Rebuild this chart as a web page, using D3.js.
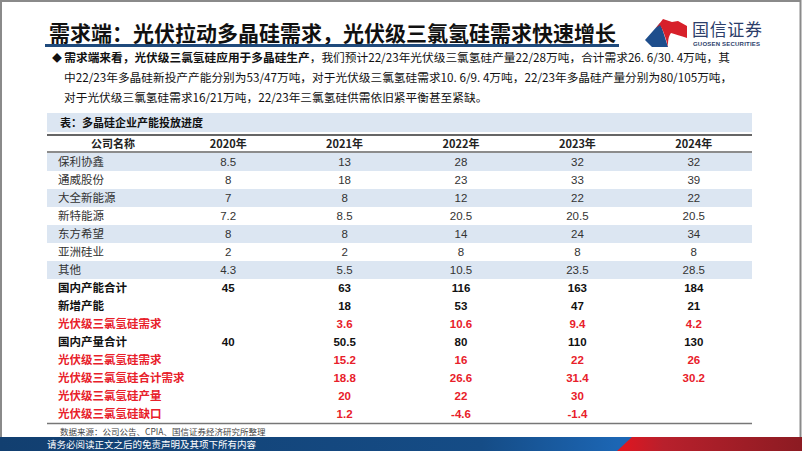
<!DOCTYPE html>
<html><head><meta charset="utf-8">
<script src="https://cdn.jsdelivr.net/npm/d3@7"></script>
<style>
body{margin:0;background:#fff;}
svg{display:block;}
text{font-family:"Liberation Sans","Noto Sans CJK SC",sans-serif;}
.cjk{font-family:"Noto Sans CJK SC","Liberation Sans",sans-serif;}
</style></head>
<body><svg id="c" width="802" height="451"></svg>
<script>
const titleText = "需求端：光伏拉动多晶硅需求，光伏级三氯氢硅需求快速增长";
const bulletBold = "需求端来看，光伏级三氯氢硅应用于多晶硅生产";
const bulletLines = [
  "，我们预计22/23年光伏级三氯氢硅产量22/28万吨，合计需求26. 6/30. 4万吨，其",
  "中22/23年多晶硅新投产产能分别为53/47万吨，对于光伏级三氯氢硅需求10. 6/9. 4万吨，22/23年多晶硅产量分别为80/105万吨，",
  "对于光伏级三氯氢硅需求16/21万吨，22/23年三氯氢硅供需依旧紧平衡甚至紧缺。"
];
const tableTitle = "表：多晶硅企业产能投放进度";
const headerName = "公司名称";
const years = ["2020年","2021年","2022年","2023年","2024年"];
const companies = ["保利协鑫","通威股份","大全新能源","新特能源","东方希望","亚洲硅业","其他"];
const companyCapacity = [
  [8.5,13,28,32,32],
  [8,18,23,33,39],
  [7,8,12,22,22],
  [7.2,8.5,20.5,20.5,20.5],
  [8,8,14,24,34],
  [2,2,8,8,8],
  [4.3,5.5,10.5,23.5,28.5]
];
const summaryLabels = ["国内产能合计","新增产能","光伏级三氯氢硅需求","国内产量合计","光伏级三氯氢硅需求","光伏级三氯氢硅合计需求","光伏级三氯氢硅产量","光伏级三氯氢硅缺口"];
const summaryValues = [
  [45,63,116,163,184],
  [null,18,53,47,21],
  [null,3.6,10.6,9.4,4.2],
  [40,50.5,80,110,130],
  [null,15.2,16,22,26],
  [null,18.8,26.6,31.4,30.2],
  [null,20,22,30,null],
  [null,1.2,-4.6,-1.4,null]
];
const sourceText = "数据来源：公司公告、CPIA、国信证券经济研究所整理";
const footerText = "请务必阅读正文之后的免责声明及其项下所有内容";
const logoCN = "国信证券";
const logoEN = "GUOSEN SECURITIES";

const svg = d3.select("#c");
const defs = svg.append("defs");

// frame
svg.append("rect").attr("x",1).attr("y",1).attr("width",799.5).attr("height",449)
  .attr("fill","#fff").attr("stroke","#8a8a8a").attr("stroke-width",2);

// title
svg.append("text").attr("class","cjk").attr("x",49).attr("y",41)
  .attr("font-size",21).attr("font-weight",700).attr("fill","#111").text(titleText);
svg.append("rect").attr("x",45).attr("y",44).attr("width",574).attr("height",3).attr("fill","#1f4a7c");

// logo
const lg = svg.append("g");
lg.append("path").attr("d","M645,40 L660,23 C663,30 665,38 668,47 L652,47 Z").attr("fill","#1e4e8c");
lg.append("path").attr("d","M656,28 L663,19 L672,22 L678,21 L687,26 L687,38 C681,36 675,34 671,33 C668,37 668,42 668,47 C666,38 663,30 660,25 Z").attr("fill","#d7202a");
lg.append("text").attr("class","cjk").attr("x",692).attr("y",36).attr("font-size",17)
  .attr("fill","#2c3e6a").attr("textLength",70).text(logoCN);
lg.append("text").attr("x",693).attr("y",46).attr("font-size",6).attr("font-weight",700)
  .attr("fill","#2c3e6a").attr("textLength",67).text(logoEN);

// bullet text
const fs = 11.7;
const bt = svg.append("text").attr("class","cjk").attr("x",52).attr("y",62).attr("font-size",fs).attr("fill","#111");
bt.append("tspan").attr("font-size",10).text("◆ ");
bt.append("tspan").attr("font-weight",700).text(bulletBold);
bt.append("tspan").text(bulletLines[0]);
svg.append("text").attr("class","cjk").attr("x",64).attr("y",82).attr("font-size",fs).attr("fill","#111").text(bulletLines[1]);
svg.append("text").attr("class","cjk").attr("x",64).attr("y",102).attr("font-size",fs).attr("fill","#111").text(bulletLines[2]);

// table
const tLeft = 47, tRight = 752;
const blue = "#dce6f2";
svg.append("rect").attr("x",tLeft).attr("y",113).attr("width",tRight-tLeft).attr("height",19).attr("fill",blue);
svg.append("text").attr("class","cjk").attr("x",60).attr("y",127).attr("font-size",11).attr("font-weight",700).attr("fill","#111").text(tableTitle);

const x = d3.scaleBand().domain(years).range([170, tRight]);
const rowsAll = companies.map((c,i)=>({label:c, vals:companyCapacity[i], summary:false}))
  .concat(summaryLabels.map((c,i)=>({label:c, vals:summaryValues[i], summary:true})));
const y = d3.scaleBand().domain(d3.range(rowsAll.length)).range([153, 423]);

// header
svg.append("line").attr("x1",tLeft).attr("x2",tRight).attr("y1",135).attr("y2",135).attr("stroke","#666").attr("stroke-width",2);
svg.append("line").attr("x1",tLeft).attr("x2",tRight).attr("y1",152).attr("y2",152).attr("stroke","#666").attr("stroke-width",1.5);
svg.append("text").attr("class","cjk").attr("x",113).attr("y",148).attr("text-anchor","middle")
  .attr("font-size",11).attr("font-weight",700).attr("fill","#222").text(headerName);
svg.selectAll(".yh").data(years).join("text").attr("class","cjk")
  .attr("x",d=>x(d)+x.bandwidth()/2).attr("y",148).attr("text-anchor","middle")
  .attr("font-size",11).attr("font-weight",700).attr("fill","#222").text(d=>d);

// stripes
svg.selectAll(".stripe").data(rowsAll.map((r,i)=>i).filter(i=>i<companies.length && i%2===0)).join("rect")
  .attr("x",tLeft).attr("width",tRight-tLeft).attr("y",i=>y(i)).attr("height",y.bandwidth()).attr("fill",blue);

const isRed = r => r.label.indexOf("光伏级三氯氢硅")===0;
const rowG = svg.selectAll(".row").data(rowsAll).join("g")
  .attr("transform",(d,i)=>`translate(0,${y(i)+y.bandwidth()/2+4})`);
rowG.append("text").attr("class","cjk").attr("x",58).attr("font-size",11.5)
  .attr("font-weight",d=>d.summary?700:400)
  .attr("fill",d=>isRed(d)?"#e8202a":(d.summary?"#111":"#333"))
  .text(d=>d.label);
rowG.each(function(r){
  d3.select(this).selectAll(".v").data(r.vals.map((v,j)=>({v,yr:years[j]})).filter(o=>o.v!==null)).join("text")
    .attr("x",o=>x(o.yr)+x.bandwidth()/2).attr("text-anchor","middle").attr("font-size",11.5)
    .attr("font-weight",r.summary?700:400)
    .attr("fill",isRed(r)?"#e8202a":(r.summary?"#111":"#333"))
    .text(o=>o.v);
});
svg.append("line").attr("x1",tLeft).attr("x2",tRight).attr("y1",423.5).attr("y2",423.5).attr("stroke","#777").attr("stroke-width",1.5);

svg.append("text").attr("class","cjk").attr("x",60).attr("y",435).attr("font-size",8.5).attr("fill","#444").text(sourceText);

// footer
const gb = defs.append("linearGradient").attr("id","fb").attr("x1","0").attr("x2","1");
gb.append("stop").attr("offset","0").attr("stop-color","#123f70");
gb.append("stop").attr("offset","0.6").attr("stop-color","#154c86");
gb.append("stop").attr("offset","0.77").attr("stop-color","#1c66b4");
const gr = defs.append("linearGradient").attr("id","fr").attr("x1","0").attr("x2","1");
gr.append("stop").attr("offset","0").attr("stop-color","#e3151f");
gr.append("stop").attr("offset","0.25").attr("stop-color","#b8202c");
gr.append("stop").attr("offset","1").attr("stop-color","#8c1b22");
svg.append("rect").attr("x",0).attr("y",437).attr("width",802).attr("height",14).attr("fill","url(#fb)");
svg.append("path").attr("d","M617,451 L632,437 L802,437 L802,451 Z").attr("fill","url(#fr)");
svg.append("text").attr("class","cjk").attr("x",47).attr("y",448).attr("font-size",9.5).attr("fill","#fff").text(footerText);
</script></body></html>
